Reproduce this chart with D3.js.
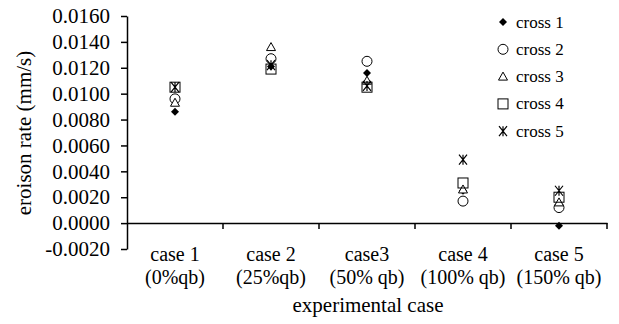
<!DOCTYPE html>
<html>
<head>
<meta charset="utf-8">
<script src="https://cdn.jsdelivr.net/npm/d3@7"></script>
<style>
  body { margin: 0; background: #fff; }
  text { font-family: "Liberation Serif", "Times New Roman", serif; fill: #000; }
</style>
</head>
<body>
<svg id="chart" width="619" height="324"></svg>
<script>
// categories (two-line labels)
const cases = ["case 1", "case 2", "case3", "case 4", "case 5"];
const caseSub = ["(0%qb)", "(25%qb)", "(50% qb)", "(100% qb)", "(150% qb)"];
const seriesNames = ["cross 1", "cross 2", "cross 3", "cross 4", "cross 5"];

// erosion rate (mm/s) per series, one value per case
const cross1 = [0.0086, 0.0121, 0.0116, 0.0025, -0.0002];
const cross2 = [0.0096, 0.0127, 0.0125, 0.0017, 0.0012];
const cross3 = [0.0093, 0.0136, 0.0110, 0.0026, 0.0016];
const cross4 = [0.0105, 0.0119, 0.0105, 0.0031, 0.0020];
const cross5 = [0.0105, 0.0122, 0.0106, 0.0049, 0.0025];
const yTicks = [-0.002, 0, 0.002, 0.004, 0.006, 0.008, 0.010, 0.012, 0.014, 0.016];

const allSeries = [cross1, cross2, cross3, cross4, cross5];

const svg = d3.select("#chart");
const plotLeft = 127, plotRight = 607, plotTop = 16, plotBottom = 249;
const fs = "21px";

const x = d3.scaleBand().domain(cases).range([plotLeft, plotRight]);
const y = d3.scaleLinear().domain([-0.002, 0.016]).range([plotBottom, plotTop]);

// y axis
const yAxis = svg.append("g")
    .attr("transform", `translate(${plotLeft},0)`)
    .call(d3.axisLeft(y).tickValues(yTicks).tickFormat(d3.format(".4f")).tickSize(6).tickPadding(11).tickSizeOuter(0));
yAxis.attr("font-family", null);
yAxis.select(".domain").attr("stroke", "#000").attr("stroke-width", 1.5);
yAxis.selectAll(".tick line").attr("stroke-width", 1.5);
yAxis.selectAll(".tick text").style("font-size", fs).text(d => d3.format(".4f")(d).replace("−", "-"));

// x axis at zero
const xAxis = svg.append("g")
    .attr("transform", `translate(0,${y(0)})`)
    .call(d3.axisBottom(x).tickValues([]).tickSizeOuter(0));
xAxis.select(".domain").attr("stroke-width", 1.5);
// category boundary ticks
xAxis.selectAll("line.sep")
    .data(cases)
    .join("line")
    .attr("class", "sep")
    .attr("x1", d => x(d) + x.bandwidth())
    .attr("x2", d => x(d) + x.bandwidth())
    .attr("y1", 0).attr("y2", 6)
    .attr("stroke", "#000").attr("stroke-width", 1.5);

// category labels
svg.selectAll("text.cat")
    .data(cases)
    .join("text")
    .attr("class", "cat")
    .attr("x", d => x(d) + x.bandwidth() / 2)
    .attr("y", 261)
    .attr("text-anchor", "middle")
    .style("font-size", "20px")
    .text(d => d);
svg.selectAll("text.sub")
    .data(caseSub)
    .join("text")
    .attr("class", "sub")
    .attr("x", (d, i) => x(cases[i]) + x.bandwidth() / 2)
    .attr("y", 283.5)
    .attr("text-anchor", "middle")
    .style("font-size", "20px")
    .text(d => d);

// axis titles
svg.append("text")
    .attr("x", 368)
    .attr("y", 312)
    .attr("text-anchor", "middle")
    .style("font-size", fs)
    .text("experimental case");
svg.append("text")
    .attr("transform", "rotate(-90)")
    .attr("x", -133)
    .attr("y", 31)
    .attr("text-anchor", "middle")
    .style("font-size", fs)
    .text("eroison rate (mm/s)");

// marker drawing
function drawMarker(g, k) {
    if (k === 0) {
        g.append("path").attr("d", "M0,-4L4,0L0,4L-4,0Z").attr("fill", "#000");
    } else if (k === 1) {
        g.append("circle").attr("r", 5).attr("fill", "#fff").attr("stroke", "#000").attr("stroke-width", 1);
    } else if (k === 2) {
        g.append("path").attr("d", "M0,-4.5L4.5,3.5L-4.5,3.5Z").attr("fill", "#fff").attr("stroke", "#000").attr("stroke-width", 1);
    } else if (k === 3) {
        g.append("rect").attr("x", -5).attr("y", -5).attr("width", 10).attr("height", 10)
            .attr("fill", "none").attr("stroke", "#000").attr("stroke-width", 1);
    } else {
        g.append("path").attr("d", "M-4,-5L4,5M-4,5L4,-5M0,-5L0,5").attr("stroke", "#000").attr("stroke-width", 1.2);
    }
}

allSeries.forEach((vals, k) => {
    svg.append("g").selectAll("g")
        .data(vals)
        .join("g")
        .attr("transform", (d, i) => `translate(${x(cases[i]) + x.bandwidth() / 2},${y(d)})`)
        .each(function() { drawMarker(d3.select(this), k); });
});

// legend
const legend = svg.append("g").attr("transform", "translate(503,22)");
seriesNames.forEach((name, k) => {
    const row = legend.append("g").attr("transform", `translate(0,${k * 27.3})`);
    drawMarker(row, k);
    row.append("text").attr("x", 13).attr("y", 5.5).style("font-size", "17px").text(name);
});
</script>
</body>
</html>
